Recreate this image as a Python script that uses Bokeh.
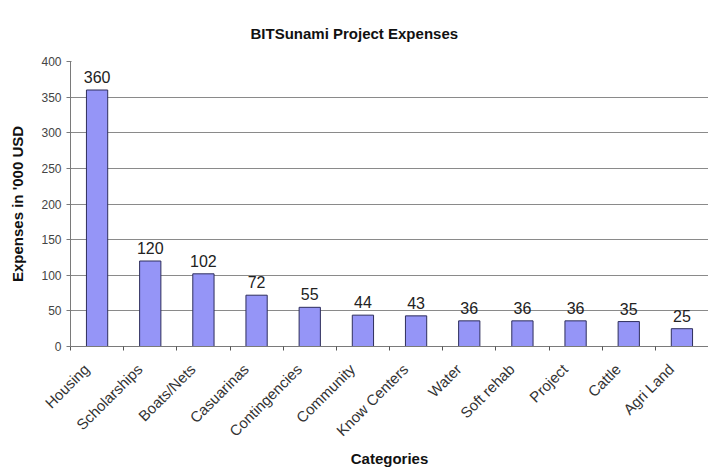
import math
from bokeh.plotting import figure
from bokeh.models import Range1d, FixedTicker, ColumnDataSource
from bokeh.core.properties import value
from bokeh.embed import file_html
from bokeh.resources import INLINE

title_text = "BITSunami Project Expenses"
categories = ["Housing", "Scholarships", "Boats/Nets", "Casuarinas", "Contingencies",
              "Community", "Know Centers", "Water", "Soft rehab", "Project", "Cattle", "Agri Land"]
expenses = [360, 120, 102, 72, 55, 44, 43, 36, 36, 36, 35, 25]
y_ticks = [0, 50, 100, 150, 200, 250, 300, 350, 400]

n = len(categories)
centers = [i + 0.5 for i in range(n)]
bounds = [float(i) for i in range(n + 1)]
label_pos = [c - 0.2 for c in centers]

src = ColumnDataSource(dict(x=centers, top=expenses, lab=[str(v) for v in expenses]))

p = figure(width=708, height=469, output_backend="svg", toolbar_location=None,
           x_range=Range1d(0, n), y_range=Range1d(0, 400),
           min_border_left=70, min_border_right=0, min_border_top=61, min_border_bottom=123)
p.outline_line_color = None
p.background_fill_color = "white"
p.border_fill_color = "white"

p.title.text = title_text
p.title.align = "left"
p.title.offset = 180
p.title.standoff = 40
p.title.text_font = "Liberation Sans"
p.title.text_font_size = "15px"
p.title.text_font_style = "bold"
p.title.text_color = "#111111"

p.vbar(x="x", top="top", width=0.4, source=src, fill_color="#9595F7",
       line_color="#2E2E5C", line_width=1)
p.text(x="x", y="top", text="lab", source=src, text_align="center", text_baseline="bottom",
       y_offset=-7, text_font=value("Liberation Sans"), text_font_size="16px", text_color="#222222")

# grid
p.xgrid.grid_line_color = None
p.ygrid.ticker = FixedTicker(ticks=y_ticks)
p.ygrid.grid_line_color = "#8a8a8a"
p.ygrid.grid_line_width = 1

# y axis
ya = p.yaxis[0]
ya.ticker = FixedTicker(ticks=y_ticks)
ya.axis_label = "Expenses in '000 USD"
ya.axis_label_text_font = "Liberation Sans"
ya.axis_label_text_font_size = "15px"
ya.axis_label_text_font_style = "bold"
ya.axis_label_text_color = "#111111"
ya.axis_label_standoff = 12
ya.major_label_text_font = "Liberation Sans"
ya.major_label_text_font_size = "12px"
ya.major_label_text_color = "#444444"
ya.major_label_standoff = 5
ya.axis_line_color = "#7a7a7a"
ya.major_tick_line_color = "#7a7a7a"
ya.major_tick_out = 4
ya.major_tick_in = 1
ya.minor_tick_line_color = None

# x axis
xa = p.xaxis[0]
xa.ticker = FixedTicker(ticks=label_pos, minor_ticks=bounds)
xa.major_label_overrides = {c: lab for c, lab in zip(label_pos, categories)}
xa.major_label_orientation = math.pi / 4
xa.major_label_text_font = "Liberation Sans"
xa.major_label_text_font_size = "15px"
xa.major_label_text_color = "#333333"
xa.major_label_standoff = 14
xa.major_tick_line_color = None
xa.minor_tick_line_color = "#555555"
xa.minor_tick_out = 4
xa.minor_tick_in = 0
xa.axis_line_color = "#7a7a7a"
xa.axis_label = "Categories"
xa.axis_label_text_font = "Liberation Sans"
xa.axis_label_text_font_size = "15px"
xa.axis_label_text_font_style = "bold"
xa.axis_label_text_color = "#111111"
xa.axis_label_standoff = 1

open("out.html", "w").write(file_html(p, INLINE))
